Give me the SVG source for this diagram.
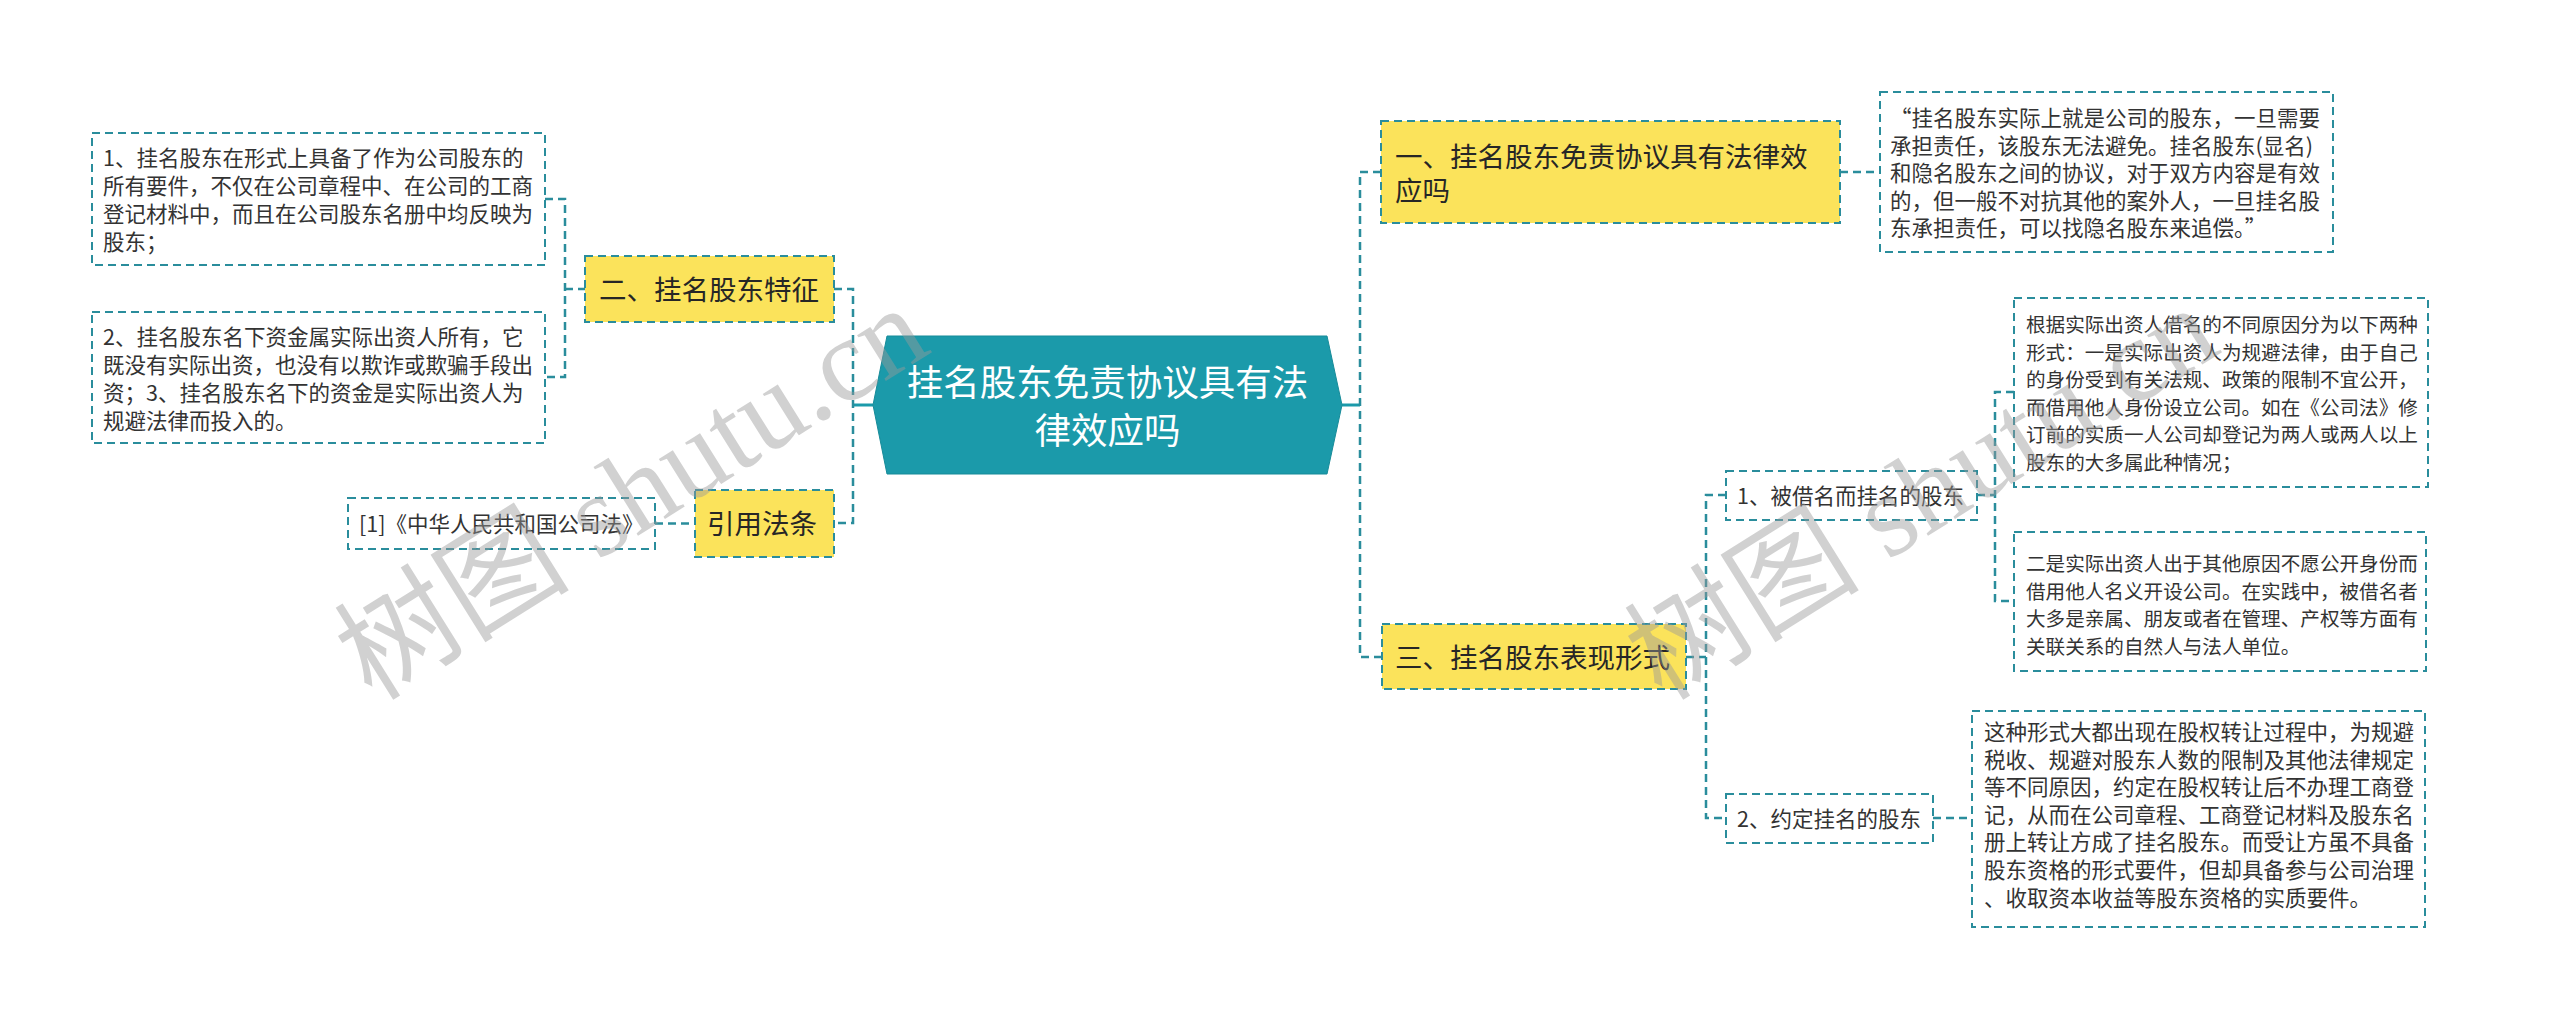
<svg xmlns="http://www.w3.org/2000/svg" width="2560" height="1018" viewBox="0 0 2560 1018">
<style>
.bg{fill:#ffffff}
.leaf{fill:#ffffff;stroke:#2a8d9c;stroke-width:2;stroke-dasharray:8 5}
.l2{fill:#fbe35b;stroke:#2a8d9c;stroke-width:2;stroke-dasharray:8 5}
.conn{fill:none;stroke:#2a8d9c;stroke-width:2.5;stroke-dasharray:8 5}
.solid{fill:none;stroke:#1b9aaa;stroke-width:3}
.hex{fill:#1b9aaa;stroke:#178b99;stroke-width:1}
text{font-family:"Noto Sans CJK SC","Noto Sans",sans-serif}
.t{font-size:21.5px;fill:#333333}
.ts{font-size:19.6px;fill:#333333}
.t2{font-size:27.5px;fill:#262626}
.tc{font-size:36.5px;fill:#ffffff}
.wm{font-family:"Liberation Serif","Noto Sans CJK SC",serif;font-size:118px;fill:#9a9a9a;opacity:0.45}
</style>
<rect class="bg" x="0" y="0" width="2560" height="1018"/>
<g id="connectors">
<path class="solid" d="M853 405 H873"/>
<path class="solid" d="M1342 405 H1360"/>
<path class="conn" d="M834 289 H853 V523 H834"/>
<path class="conn" d="M545 199 H565 V377 H545 M565 289 H585"/>
<path class="conn" d="M655 523.5 H695"/>
<path class="conn" d="M1381 172 H1360 V657 H1381"/>
<path class="conn" d="M1840 172 H1880"/>
<path class="conn" d="M1686 657 H1706 M1726 495 H1706 V818 H1726"/>
<path class="conn" d="M1977 495 H1995 M2014 392 H1995 V601 H2014"/>
<path class="conn" d="M1933 818 H1972"/>
</g>
<g id="center">
<polygon class="hex" points="887,336 1327,336 1342,405 1327,474 887,474 873,405"/>
<text class="tc" text-anchor="middle"><tspan x="1107.5" y="396">挂名股东免责协议具有法</tspan><tspan x="1107.5" y="444">律效应吗</tspan></text>
</g>
<g id="n-tezheng">
<rect class="l2" x="585" y="256" width="249" height="66"/>
<text class="t2" x="599" y="299.5">二、挂名股东特征</text>
</g>
<g id="n-l1">
<rect class="leaf" x="92" y="133" width="453" height="132"/>
<text class="t"><tspan x="103" y="166">1、挂名股东在形式上具备了作为公司股东的</tspan><tspan x="103" y="194">所有要件，不仅在公司章程中、在公司的工商</tspan><tspan x="103" y="222">登记材料中，而且在公司股东名册中均反映为</tspan><tspan x="103" y="250">股东；</tspan></text>
</g>
<g id="n-l2">
<rect class="leaf" x="92" y="312" width="453" height="131"/>
<text class="t"><tspan x="103" y="345">2、挂名股东名下资金属实际出资人所有，它</tspan><tspan x="103" y="373">既没有实际出资，也没有以欺诈或欺骗手段出</tspan><tspan x="103" y="401">资；3、挂名股东名下的资金是实际出资人为</tspan><tspan x="103" y="429">规避法律而投入的。</tspan></text>
</g>
<g id="n-yinyong">
<rect class="l2" x="695" y="490" width="139" height="67"/>
<text class="t2" x="707" y="534">引用法条</text>
</g>
<g id="n-law">
<rect class="leaf" x="348" y="498" width="307" height="51"/>
<text class="t" x="359" y="532">[1]《中华人民共和国公司法》</text>
</g>
<g id="n-yi">
<rect class="l2" x="1381" y="121" width="459" height="102"/>
<text class="t2"><tspan x="1395" y="166.5">一、挂名股东免责协议具有法律效</tspan><tspan x="1395" y="200.5">应吗</tspan></text>
</g>
<g id="n-r0">
<rect class="leaf" x="1880" y="92" width="453" height="160"/>
<text class="t"><tspan x="1890" y="126">“挂名股东实际上就是公司的股东，一旦需要</tspan><tspan x="1890" y="153.5">承担责任，该股东无法避免。挂名股东(显名)</tspan><tspan x="1890" y="181">和隐名股东之间的协议，对于双方内容是有效</tspan><tspan x="1890" y="208.5">的，但一般不对抗其他的案外人，一旦挂名股</tspan><tspan x="1890" y="236">东承担责任，可以找隐名股东来追偿。”</tspan></text>
</g>
<g id="n-san">
<rect class="l2" x="1382" y="624" width="304" height="65"/>
<text class="t2" x="1395" y="667.5">三、挂名股东表现形式</text>
</g>
<g id="n-s1">
<rect class="leaf" x="1726" y="471" width="251" height="49"/>
<text class="t" x="1737" y="504">1、被借名而挂名的股东</text>
</g>
<g id="n-r1">
<rect class="leaf" x="2014" y="298" width="414" height="189"/>
<text class="ts"><tspan x="2026" y="332">根据实际出资人借名的不同原因分为以下两种</tspan><tspan x="2026" y="359.6">形式：一是实际出资人为规避法律，由于自己</tspan><tspan x="2026" y="387.2">的身份受到有关法规、政策的限制不宜公开，</tspan><tspan x="2026" y="414.8">而借用他人身份设立公司。如在《公司法》修</tspan><tspan x="2026" y="442.4">订前的实质一人公司却登记为两人或两人以上</tspan><tspan x="2026" y="470">股东的大多属此种情况；</tspan></text>
</g>
<g id="n-r2">
<rect class="leaf" x="2014" y="532" width="412" height="139"/>
<text class="ts"><tspan x="2026" y="571">二是实际出资人出于其他原因不愿公开身份而</tspan><tspan x="2026" y="598.6">借用他人名义开设公司。在实践中，被借名者</tspan><tspan x="2026" y="626.2">大多是亲属、朋友或者在管理、产权等方面有</tspan><tspan x="2026" y="653.8">关联关系的自然人与法人单位。</tspan></text>
</g>
<g id="n-s2">
<rect class="leaf" x="1726" y="794" width="207" height="49"/>
<text class="t" x="1737" y="827">2、约定挂名的股东</text>
</g>
<g id="n-r3">
<rect class="leaf" x="1972" y="711" width="453" height="216"/>
<text class="t"><tspan x="1984" y="740">这种形式大都出现在股权转让过程中，为规避</tspan><tspan x="1984" y="767.6">税收、规避对股东人数的限制及其他法律规定</tspan><tspan x="1984" y="795.2">等不同原因，约定在股权转让后不办理工商登</tspan><tspan x="1984" y="822.8">记，从而在公司章程、工商登记材料及股东名</tspan><tspan x="1984" y="850.4">册上转让方成了挂名股东。而受让方虽不具备</tspan><tspan x="1984" y="878">股东资格的形式要件，但却具备参与公司治理</tspan><tspan x="1984" y="905.6">、收取资本收益等股东资格的实质要件。</tspan></text>
</g>
<g id="watermarks">
<text class="wm" x="372" y="702" transform="rotate(-32 372 702)">树图 shutu.cn</text>
<text class="wm" x="1662" y="702" transform="rotate(-32 1662 702)">树图 shutu.cn</text>
</g>
</svg>
